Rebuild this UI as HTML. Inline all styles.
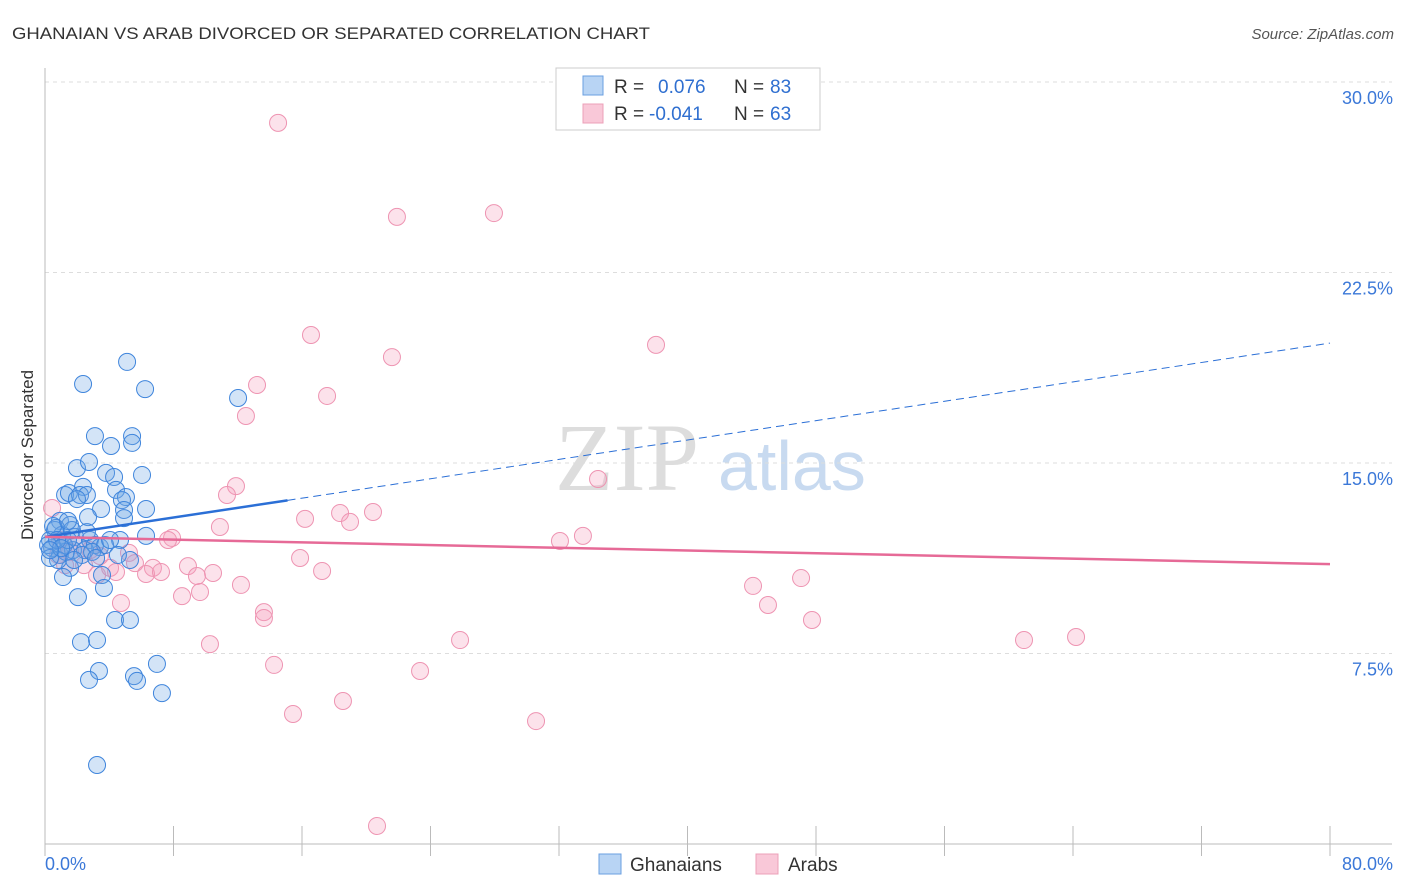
<!DOCTYPE html>
<html><head><meta charset="utf-8"><style>
body{margin:0;background:#fff;font-family:"Liberation Sans",sans-serif}
svg{display:block}
</style></head><body>
<svg width="1406" height="892" id="c">
<text x="12" y="39" font-size="17" fill="#333" textLength="638" lengthAdjust="spacingAndGlyphs">GHANAIAN VS ARAB DIVORCED OR SEPARATED CORRELATION CHART</text>
<text x="1394" y="39" font-size="15" fill="#555" font-style="italic" text-anchor="end">Source: ZipAtlas.com</text>
<text transform="translate(33,455) rotate(-90)" font-size="17" fill="#333" text-anchor="middle">Divorced or Separated</text>
<text x="555" y="490" font-size="96" fill="#ddd" font-family="Liberation Serif,serif">ZIP</text>
<text x="718" y="490" font-size="70" fill="#c8daf0">atlas</text>
<g id="grid"></g><g id="pts"></g><g id="lines"></g>
<g>
<rect x="556" y="68" width="264" height="62" fill="#fff" stroke="#ccc"/>
<rect x="583" y="76" width="20" height="19" fill="#b8d4f4" stroke="#6a9fe0"/>
<rect x="583" y="104" width="20" height="19" fill="#f9c8d8" stroke="#eca0b8"/>
<text y="93" font-size="19" fill="#333"><tspan x="614">R =</tspan><tspan x="658" fill="#2f6fd0">0.076</tspan><tspan x="734">N =</tspan><tspan x="770" fill="#2f6fd0">83</tspan></text>
<text y="120" font-size="19" fill="#333"><tspan x="614">R =</tspan><tspan x="649" fill="#2f6fd0">-0.041</tspan><tspan x="734">N =</tspan><tspan x="770" fill="#2f6fd0">63</tspan></text>
</g>
<g>
<rect x="599" y="854" width="22" height="20" fill="#b8d4f4" stroke="#6a9fe0"/>
<text x="630" y="871" font-size="19" fill="#333">Ghanaians</text>
<rect x="756" y="854" width="22" height="20" fill="#f9c8d8" stroke="#eca0b8"/>
<text x="788" y="871" font-size="19" fill="#333">Arabs</text>
</g>
</svg>
<script>
const yTicks=[30,22.5,15,7.5];
const xTickLabels=["0.0%","80.0%"];
const blueX=[],blueY=[],pinkX=[],pinkY=[];
const bluePx=[[127,362],[83,384],[145,389],[238,398],[95,436],[132,436],[111,446],[132,443],[77,468],[89,462],[106,473],[142,475],[114,477],[65,495],[69,493],[83,487],[80,495],[87,495],[116,490],[126,497],[122,500],[124,510],[146,509],[101,509],[88,517],[77,499],[60,521],[70,525],[55,530],[62,535],[75,537],[90,540],[100,547],[120,540],[146,536],[52,548],[60,555],[73,550],[85,550],[95,545],[105,545],[50,540],[56,528],[64,545],[130,560],[70,568],[63,577],[102,575],[78,597],[104,588],[115,620],[130,620],[81,642],[97,640],[99,671],[89,680],[157,664],[134,676],[137,681],[162,693],[97,765],[48,545],[66,552],[58,560],[50,558],[53,526],[72,530],[68,540],[82,555],[92,552],[110,540],[118,555],[87,532],[124,518],[57,540],[61,548],[74,560],[96,558],[68,521],[50,550]];
const pinkPx=[[278,123],[397,217],[494,213],[311,335],[392,357],[656,345],[257,385],[327,396],[246,416],[598,479],[236,486],[227,495],[52,508],[220,527],[305,519],[340,513],[373,512],[350,522],[560,541],[583,536],[172,538],[168,540],[129,553],[58,555],[70,552],[65,565],[300,558],[188,566],[213,573],[322,571],[97,575],[110,568],[116,572],[135,563],[153,568],[146,574],[161,572],[197,576],[241,585],[182,596],[200,592],[121,603],[264,612],[264,618],[753,586],[801,578],[768,605],[812,620],[210,644],[460,640],[1024,640],[1076,637],[274,665],[420,671],[293,714],[343,701],[536,721],[377,826],[78,545],[90,550],[60,540],[100,556],[84,565]];
bluePx.forEach(p=>{blueX.push(+((p[0]-45)/1285*80).toFixed(2));blueY.push(+((844-p[1])/762*30).toFixed(2));});
pinkPx.forEach(p=>{pinkX.push(+((p[0]-45)/1285*80).toFixed(2));pinkY.push(+((844-p[1])/762*30).toFixed(2));});
const blueTrend=[12.09,19.72];
const pinkTrend=[12.09,11.02];
const sx=v=>45+v/80*1285, sy=v=>844-v/30*762;
const NS="http://www.w3.org/2000/svg";
function mk(tag,attrs,parent){const e=document.createElementNS(NS,tag);for(const k in attrs)e.setAttribute(k,attrs[k]);document.getElementById(parent).appendChild(e);return e;}
yTicks.forEach(t=>{
 const l=mk('line',{x1:45,x2:1392,y1:sy(t),y2:sy(t),stroke:'#ddd','stroke-dasharray':'4,4'},'grid');
 
 
 const tx=mk('text',{x:1393,y:sy(t)+22,'font-size':18,fill:'#3b78d8','text-anchor':'end'},'grid');
 tx.textContent=t.toFixed(1)+'%';
 
 
});
const ax=mk('line',{x1:45,x2:45,y1:68,y2:844,stroke:'#bbb'},'grid');


const bx=mk('line',{x1:45,x2:1392,y1:844,y2:844,stroke:'#bbb'},'grid');


for(let i=0;i<=10;i++){
 const tk=mk('line',{x1:sx(i*8),x2:sx(i*8),y1:826,y2:856,stroke:'#bbb'},'grid');
 
 
}
[[0,'start',45],[80,'end',1393]].forEach((a,i)=>{
 const t=mk('text',{x:a[2],y:870,'font-size':18,fill:'#3b78d8','text-anchor':a[1]},'grid');
 t.textContent=xTickLabels[i];
 
 
});
pinkX.forEach((x,i)=>{
 const c=mk('circle',{cx:sx(x),cy:sy(pinkY[i]),r:8.5,fill:'rgba(244,160,188,0.3)',stroke:'#ee94b2','stroke-width':1},'pts');
 
 
});
blueX.forEach((x,i)=>{
 const c=mk('circle',{cx:sx(x),cy:sy(blueY[i]),r:8.5,fill:'rgba(110,165,230,0.3)',stroke:'#3f85dc','stroke-width':1},'pts');
 
 
});
const bAt=x=>blueTrend[0]+(blueTrend[1]-blueTrend[0])*x/80;
const l1=mk('line',{x1:sx(0),y1:sy(bAt(0)),x2:sx(15.1),y2:sy(bAt(15.1)),stroke:'#2b6fd6','stroke-width':2.5},'lines');


const l2=mk('line',{x1:sx(15.1),y1:sy(bAt(15.1)),x2:sx(80),y2:sy(bAt(80)),stroke:'#2b6fd6','stroke-width':1,'stroke-dasharray':'8,5'},'lines');


const l3=mk('line',{x1:sx(0),y1:sy(pinkTrend[0]),x2:sx(80),y2:sy(pinkTrend[1]),stroke:'#e66a97','stroke-width':2.5},'lines');


</script>
</body></html>
